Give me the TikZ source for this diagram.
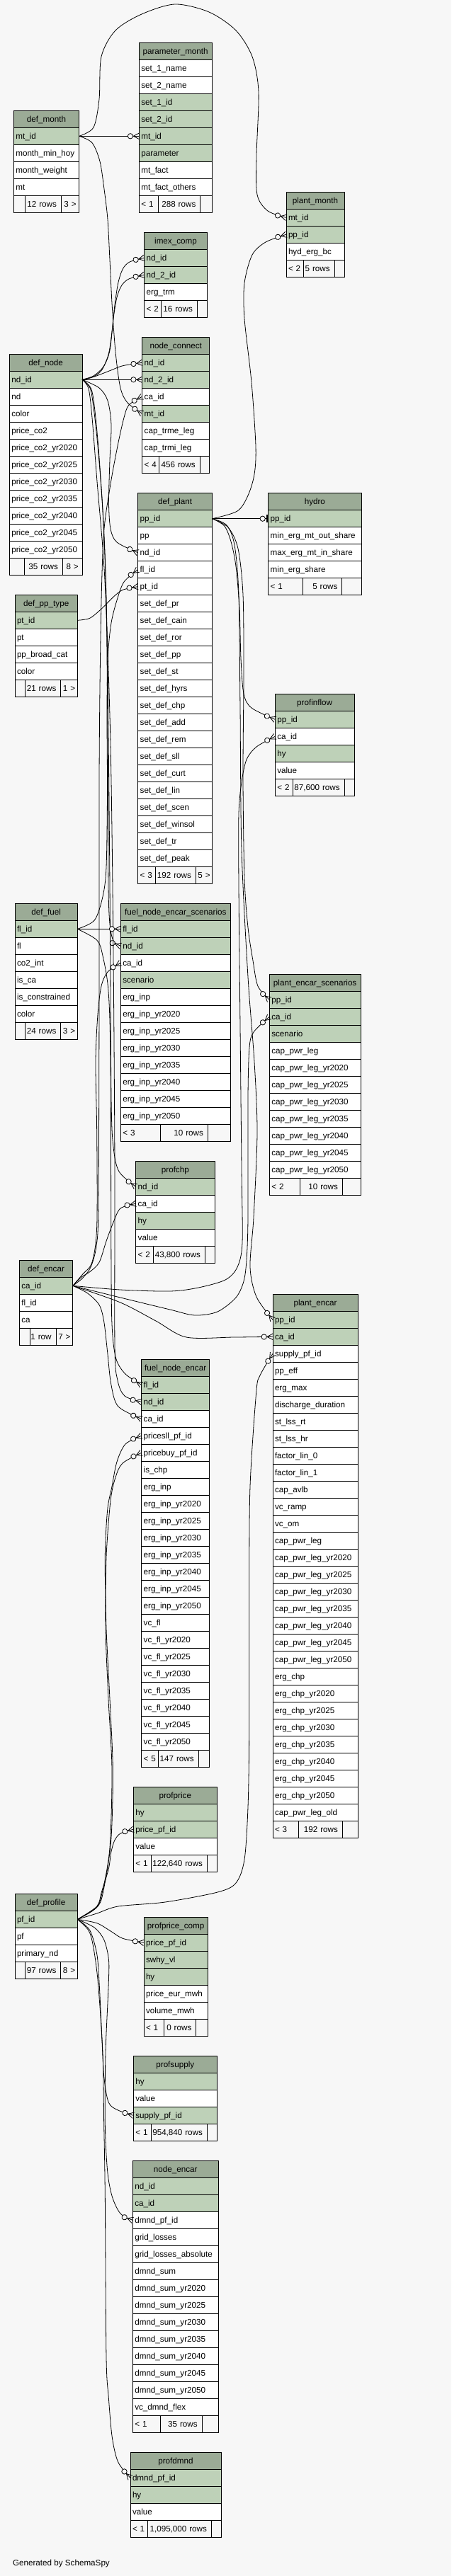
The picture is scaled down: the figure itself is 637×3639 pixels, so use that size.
\documentclass[tikz,border=0pt]{standalone}
\usepackage{fontspec}
\setmainfont{Liberation Sans}
\usetikzlibrary{arrows.meta}
\definecolor{pagebg}{HTML}{F7F7F7}
\definecolor{headbg}{HTML}{9BAB96}
\definecolor{keybg}{HTML}{BED1B8}
% zero-or-many end: circle and crow's foot
\pgfdeclarearrow{
  name = CrowO,
  setup code = {
    \pgfarrowssettipend{0pt}
    \pgfarrowssetlineend{0pt}
    \pgfarrowssetbackend{-12pt}
    \pgfarrowssetvisualbackend{-12pt}
    \pgfarrowshullpoint{0pt}{3pt}
    \pgfarrowshullpoint{0pt}{-3pt}
    \pgfarrowshullpoint{-12pt}{0pt}
  },
  drawing code = {
    \pgfpathmoveto{\pgfqpoint{0pt}{3.2pt}}
    \pgfpathlineto{\pgfqpoint{-6pt}{0pt}}
    \pgfpathlineto{\pgfqpoint{0pt}{-3.2pt}}
    \pgfusepathqstroke
    \pgfpathcircle{\pgfqpoint{-9.25pt}{0pt}}{2.75pt}
    \pgfsetfillcolor{pagebg}
    \pgfusepathqfillstroke
  },
}
% zero-or-one end: circle and bar
\pgfdeclarearrow{
  name = TeeO,
  setup code = {
    \pgfarrowssettipend{0pt}
    \pgfarrowssetlineend{0pt}
    \pgfarrowssetbackend{-9pt}
    \pgfarrowssetvisualbackend{-9pt}
    \pgfarrowshullpoint{0pt}{4.1pt}
    \pgfarrowshullpoint{0pt}{-4.1pt}
    \pgfarrowshullpoint{-9pt}{0pt}
  },
  drawing code = {
    \pgfpathrectangle{\pgfqpoint{-2pt}{-4.1pt}}{\pgfqpoint{2pt}{8.2pt}}
    \pgfusepathqfill
    \pgfpathcircle{\pgfqpoint{-6pt}{0pt}}{2.75pt}
    \pgfsetfillcolor{pagebg}
    \pgfusepathqfillstroke
  },
}
\tikzset{
  cell/.style={rectangle, draw=black, line width=0.75pt, inner xsep=2.25pt, inner ysep=0pt,
    outer sep=0pt, minimum height=18pt, anchor=north west,
    font=\fontsize{8.75pt}{10.5pt}\selectfont, text height=7.5pt, text depth=1.5pt},
  tblhead/.style={cell, fill=headbg, align=center},
  tblrow/.style={cell, align=left},
  tblfoot/.style={cell, fill=pagebg},
  crowodot/.style={line width=0.6pt, -{CrowO}},
  teeodot/.style={line width=0.6pt, -{TeeO}},
}
% table: name, left, top, width, title, rows (text/fill)
\newcommand\dbtable[6]{%
  \def\tblx{#2}\def\tbly{#3}\def\tblw{#4}%
  \pgfmathsetlengthmacro\tblwd{(#4-6)*0.75pt}%
  \node[tblhead, text width=\tblwd] (#1) at (#2,#3) {#5};
  \foreach \txt/\bg [count=\i] in {#6} {
    \node[tblrow, fill=\bg, text width=\tblwd] (#1-\i) at (#2,{#3+24*\i}) {\txt};
    \xdef\lastrow{\i}
  }
}
% footer: name, first cut, second cut, left, count, right
\newcommand\dbfoot[6]{%
  \pgfmathsetmacro\fy{\tbly+24*(\lastrow+1)}%
  \pgfmathsetlengthmacro\wa{(#2-\tblx-6)*0.75pt}%
  \pgfmathsetlengthmacro\wb{(#3-#2-6)*0.75pt}%
  \pgfmathsetlengthmacro\wc{(\tblx+\tblw-#3-6)*0.75pt}%
  \node[tblfoot, align=left, text width=\wa] (#1-a) at (\tblx,\fy) {#4};
  \node[tblfoot, align=left, text width=\wb] (#1-b) at (#2,\fy) {\hbox to\linewidth{\hss#5\kern2.5pt}};
  \node[tblfoot, align=center, text width=\wc] (#1-c) at (#3,\fy) {\hbox to\linewidth{\hss#6\hss}};
}

\begin{document}
\begin{tikzpicture}[x=0.75pt, y=-0.75pt]
\fill[pagebg] (0,0) rectangle (637,3639);
\useasboundingbox (0,0) rectangle (637,3639);

\dbtable{defmonth}{19.3}{156.3}{92.4}{def\_month}{mt\_id/keybg, month\_min\_hoy/white, month\_weight/white, mt/white}
\dbfoot{defmonth}{35.7}{86.3}{}{12 rows}{3 >}

\dbtable{parammonth}{196.3}{60.3}{102.7}{parameter\_month}{set\_1\_name/white, set\_2\_name/white, set\_1\_id/keybg, set\_2\_id/keybg, mt\_id/keybg, parameter/keybg, mt\_fact/white, mt\_fact\_others/white}
\dbfoot{parammonth}{223.7}{282.7}{< 1}{288 rows}{}

\dbtable{plantmonth}{404}{271.3}{82}{plant\_month}{mt\_id/keybg, pp\_id/keybg, hyd\_erg\_bc/white}
\dbfoot{plantmonth}{428}{472}{< 2}{5 rows}{}

\dbtable{imexcomp}{203.7}{328.3}{88.6}{imex\_comp}{nd\_id/keybg, nd\_2\_id/keybg, erg\_trm/white}
\dbfoot{imexcomp}{227.7}{278.3}{< 2}{16 rows}{}

\dbtable{nodeconnect}{200.7}{476.3}{95}{node\_connect}{nd\_id/keybg, nd\_2\_id/keybg, ca\_id/white, mt\_id/keybg, cap\_trme\_leg/white, cap\_trmi\_leg/white}
\dbfoot{nodeconnect}{224.3}{282}{< 4}{456 rows}{}

\dbtable{defnode}{13.3}{500.3}{102.7}{def\_node}{nd\_id/keybg, nd/white, color/white, price\_co2/white, price\_co2\_yr2020/white, price\_co2\_yr2025/white, price\_co2\_yr2030/white, price\_co2\_yr2035/white, price\_co2\_yr2040/white, price\_co2\_yr2045/white, price\_co2\_yr2050/white}
\dbfoot{defnode}{34}{88.3}{}{35 rows}{8 >}

\dbtable{defplant}{194.7}{696.7}{105}{def\_plant}{pp\_id/keybg, pp/white, nd\_id/white, fl\_id/white, pt\_id/white, set\_def\_pr/white, set\_def\_cain/white, set\_def\_ror/white, set\_def\_pp/white, set\_def\_st/white, set\_def\_hyrs/white, set\_def\_chp/white, set\_def\_add/white, set\_def\_rem/white, set\_def\_sll/white, set\_def\_curt/white, set\_def\_lin/white, set\_def\_scen/white, set\_def\_winsol/white, set\_def\_tr/white, set\_def\_peak/white}
\dbfoot{defplant}{219.3}{276.3}{< 3}{192 rows}{5 >}

\dbtable{hydro}{378.7}{696.7}{131.3}{hydro}{pp\_id/keybg, min\_erg\_mt\_out\_share/white, max\_erg\_mt\_in\_share/white, min\_erg\_share/white}
\dbfoot{hydro}{427}{482.7}{< 1}{5 rows}{}

\dbtable{defpptype}{21}{840.3}{88.3}{def\_pp\_type}{pt\_id/keybg, pt/white, pp\_broad\_cat/white, color/white}
\dbfoot{defpptype}{35.7}{85.7}{}{21 rows}{1 >}

\dbtable{profinflow}{388.3}{980.3}{111.7}{profinflow}{pp\_id/keybg, ca\_id/white, hy/keybg, value/white}
\dbfoot{profinflow}{413}{486}{< 2}{87,600 rows}{}

\dbtable{deffuel}{21}{1276.3}{88.3}{def\_fuel}{fl\_id/keybg, fl/white, co2\_int/white, is\_ca/white, is\_constrained/white, color/white}
\dbfoot{deffuel}{35.7}{85.7}{}{24 rows}{3 >}

\dbtable{fnescen}{170.3}{1276.3}{155}{fuel\_node\_encar\_scenarios}{fl\_id/keybg, nd\_id/keybg, ca\_id/white, scenario/keybg, erg\_inp/white, erg\_inp\_yr2020/white, erg\_inp\_yr2025/white, erg\_inp\_yr2030/white, erg\_inp\_yr2035/white, erg\_inp\_yr2040/white, erg\_inp\_yr2045/white, erg\_inp\_yr2050/white}
\dbfoot{fnescen}{226.7}{293.3}{< 3}{10 rows}{}

\dbtable{pescen}{380.3}{1376.3}{128.7}{plant\_encar\_scenarios}{pp\_id/keybg, ca\_id/keybg, scenario/keybg, cap\_pwr\_leg/white, cap\_pwr\_leg\_yr2020/white, cap\_pwr\_leg\_yr2025/white, cap\_pwr\_leg\_yr2030/white, cap\_pwr\_leg\_yr2035/white, cap\_pwr\_leg\_yr2040/white, cap\_pwr\_leg\_yr2045/white, cap\_pwr\_leg\_yr2050/white}
\dbfoot{pescen}{423.7}{483.3}{< 2}{10 rows}{}

\dbtable{profchp}{191.7}{1640.3}{111.3}{profchp}{nd\_id/keybg, ca\_id/white, hy/keybg, value/white}
\dbfoot{profchp}{216.3}{289.3}{< 2}{43,800 rows}{}

\dbtable{defencar}{27.3}{1780.3}{75.4}{def\_encar}{ca\_id/keybg, fl\_id/white, ca/white}
\dbfoot{defencar}{42.3}{79}{}{1 row}{7 >}

\dbtable{plantencar}{385}{1828.3}{120}{plant\_encar}{pp\_id/keybg, ca\_id/keybg, supply\_pf\_id/white, pp\_eff/white, erg\_max/white, discharge\_duration/white, st\_lss\_rt/white, st\_lss\_hr/white, factor\_lin\_0/white, factor\_lin\_1/white, cap\_avlb/white, vc\_ramp/white, vc\_om/white, cap\_pwr\_leg/white, cap\_pwr\_leg\_yr2020/white, cap\_pwr\_leg\_yr2025/white, cap\_pwr\_leg\_yr2030/white, cap\_pwr\_leg\_yr2035/white, cap\_pwr\_leg\_yr2040/white, cap\_pwr\_leg\_yr2045/white, cap\_pwr\_leg\_yr2050/white, erg\_chp/white, erg\_chp\_yr2020/white, erg\_chp\_yr2025/white, erg\_chp\_yr2030/white, erg\_chp\_yr2035/white, erg\_chp\_yr2040/white, erg\_chp\_yr2045/white, erg\_chp\_yr2050/white, cap\_pwr\_leg\_old/white}
\dbfoot{plantencar}{421.3}{483.3}{< 3}{192 rows}{}

\dbtable{fuelnodeencar}{199.7}{1920.3}{96}{fuel\_node\_encar}{fl\_id/keybg, nd\_id/keybg, ca\_id/white, pricesll\_pf\_id/white, pricebuy\_pf\_id/white, is\_chp/white, erg\_inp/white, erg\_inp\_yr2020/white, erg\_inp\_yr2025/white, erg\_inp\_yr2030/white, erg\_inp\_yr2035/white, erg\_inp\_yr2040/white, erg\_inp\_yr2045/white, erg\_inp\_yr2050/white, vc\_fl/white, vc\_fl\_yr2020/white, vc\_fl\_yr2025/white, vc\_fl\_yr2030/white, vc\_fl\_yr2035/white, vc\_fl\_yr2040/white, vc\_fl\_yr2045/white, vc\_fl\_yr2050/white}
\dbfoot{fuelnodeencar}{223.7}{280}{< 5}{147 rows}{}

\dbtable{profprice}{188.3}{2524.3}{118}{profprice}{hy/keybg, price\_pf\_id/keybg, value/white}
\dbfoot{profprice}{213}{292.3}{< 1}{122,640 rows}{}

\dbtable{defprofile}{21}{2675.3}{88.3}{def\_profile}{pf\_id/keybg, pf/white, primary\_nd/white}
\dbfoot{defprofile}{35.7}{85.7}{}{97 rows}{8 >}

\dbtable{profpricecomp}{203}{2708.3}{90.3}{profprice\_comp}{price\_pf\_id/keybg, swhy\_vl/keybg, hy/keybg, price\_eur\_mwh/white, volume\_mwh/white}
\dbfoot{profpricecomp}{231}{276.7}{< 1}{0 rows}{}

\dbtable{profsupply}{188.3}{2904.3}{118}{profsupply}{hy/keybg, value/white, supply\_pf\_id/keybg}
\dbfoot{profsupply}{213}{292.3}{< 1}{954,840 rows}{}

\dbtable{nodeencar}{187.3}{3052.3}{121}{node\_encar}{nd\_id/keybg, ca\_id/keybg, dmnd\_pf\_id/white, grid\_losses/white, grid\_losses\_absolute/white, dmnd\_sum/white, dmnd\_sum\_yr2020/white, dmnd\_sum\_yr2025/white, dmnd\_sum\_yr2030/white, dmnd\_sum\_yr2035/white, dmnd\_sum\_yr2040/white, dmnd\_sum\_yr2045/white, dmnd\_sum\_yr2050/white, vc\_dmnd\_flex/white}
\dbfoot{nodeencar}{226.7}{285}{< 1}{35 rows}{}

\dbtable{profdmnd}{184}{3464.3}{128}{profdmnd}{dmnd\_pf\_id/keybg, hy/keybg, value/white}
\dbfoot{profdmnd}{208}{298.3}{< 1}{1,095,000 rows}{}

\node[anchor=base west, font=\fontsize{8.75pt}{10.5pt}\selectfont] (credit) at (13.3,3624) {Generated by SchemaSpy};

% def_month
\draw[crowodot] (defmonth-1.east) -- (parammonth-5.west);
\draw[crowodot] plot[smooth] coordinates {(defmonth-1.east) (132,180) (140,140) (143,80) (163,43) (200,20) (247,6) (295,17) (333,43) (356,80) (365,130) (362,220) (363,275) (378,298) (plantmonth-1.west)};
\draw[crowodot] plot[smooth] coordinates {(defmonth-1.east) (130,201.7) (141,228) (147,267) (152,310) (155,367) (158.3,433) (163.3,500) (170,548) (180,569) (nodeconnect-4.west)};

% def_node
\draw[crowodot] plot[smooth] coordinates {(defnode-1.east) (130,533) (143.3,523.3) (153.3,500) (158.3,466.7) (161.7,433.3) (166.7,400) (173.3,380) (183,370) (imexcomp-1.west)};
\draw[crowodot] plot[smooth] coordinates {(defnode-1.east) (132,531) (146,518) (155,495) (160,450) (165,420) (171.7,403.3) (182,394) (imexcomp-2.west)};
\draw[crowodot] plot[smooth] coordinates {(defnode-1.east) (133.3,532) (156.7,523) (173.3,516.7) (nodeconnect-1.west)};
\draw[crowodot] (defnode-1.east) -- (nodeconnect-2.west);
\draw[crowodot] plot[smooth] coordinates {(defnode-1.east) (140,548) (152,566) (157,600) (155,650) (153.5,710) (156,747) (165,766) (defplant-3.west)};
\draw[crowodot] plot[smooth] coordinates {(defnode-1.east) (127,548) (132,575) (138,630) (145,720) (150,850) (152,1050) (153,1250) (155,1305) (160,1329) (fnescen-2.west)};
\draw[crowodot] plot[smooth] coordinates {(defnode-1.east) (129,550) (135,590) (141,660) (148,780) (152,950) (155,1250) (157,1550) (160,1620) (168,1655) (profchp-1.west)};
\draw[crowodot] plot[smooth] coordinates {(defnode-1.east) (125,549) (130,590) (137,680) (148,820) (156,1050) (160,1350) (162,1650) (162,1900) (166,1950) (176,1972) (fuelnodeencar-2.west)};

% def_plant
\draw[teeodot] (defplant-1.east) -- (hydro-1.west);
\draw[crowodot] plot[smooth] coordinates {(defplant-1.east) (335,722) (350,700) (359,670) (361,630) (355,540) (345,450) (345,400) (356,360) (375,342) (plantmonth-2.west)};
\draw[crowodot] plot[smooth] coordinates {(defplant-1.east) (316.7,743) (326,765) (333,800) (338,860) (340,930) (344,980) (355,1000) (profinflow-1.west)};
\draw[crowodot] plot[smooth] coordinates {(defplant-1.east) (322,745) (336,775) (343,840) (344,950) (343,1100) (345,1240) (350,1310) (357,1357) (364,1393) (pescen-1.west)};
\draw[crowodot] plot[smooth] coordinates {(defplant-1.east) (320,742) (331,770) (337,840) (339,1000) (341,1200) (350,1380) (359,1500) (363,1600) (358,1720) (353,1790) (362,1832) (plantencar-1.west)};

% def_pp_type, def_fuel
\draw[crowodot] plot[smooth] coordinates {(defpptype-1.east) (126.7,873.3) (143.3,860) (160,843.3) (173.3,833.3) (defplant-5.west)};
\draw[crowodot] plot[smooth] coordinates {(deffuel-1.east) (133.3,1300) (145,1266.7) (150,1225) (151.5,1120) (151,1000) (152.5,925) (157,880) (165,848) (175,822) (defplant-4.west)};
\draw[crowodot] (deffuel-1.east) -- (fnescen-1.west);
\draw[crowodot] plot[smooth] coordinates {(deffuel-1.east) (136.7,1328) (145,1350) (153,1400) (156,1500) (157,1800) (158.5,1880) (164,1920) (177,1941) (fuelnodeencar-1.west)};

% def_encar
\draw[crowodot] plot[smooth] coordinates {(defencar-1.east) (116,1806) (128,1790) (136,1760) (139,1700) (140,1400) (140,1100) (142,900) (146,760) (155,690) (166,630) (175,590) (182,572) (nodeconnect-3.west)};
\draw[crowodot] plot[smooth] coordinates {(defencar-1.east) (170,1822) (240,1824) (280,1819) (318,1808) (335,1790) (342,1755) (341,1650) (339,1450) (337,1250) (337,1150) (341,1105) (348,1073) (362,1055) (profinflow-2.west)};
\draw[crowodot] plot[smooth] coordinates {(defencar-1.east) (116.7,1800) (130,1783) (136.7,1733) (136.7,1600) (135,1500) (138,1433) (143,1393) (152,1373) (fnescen-3.west)};
\draw[crowodot] plot[smooth] coordinates {(defencar-1.east) (170,1833) (240,1850) (275,1858) (307,1853) (333,1833) (344,1810) (348,1780) (350,1720) (350,1550) (352,1480) (358,1458) (pescen-2.west)};
\draw[crowodot] plot[smooth] coordinates {(defencar-1.east) (115,1804) (126.7,1796.7) (140,1783.3) (150,1753.3) (160,1726.7) (170,1707) (profchp-2.west)};
\draw[crowodot] plot[smooth] coordinates {(defencar-1.east) (170,1840) (220,1866) (263,1889) (330,1889) (plantencar-2.west)};
\draw[crowodot] plot[smooth] coordinates {(defencar-1.east) (123.3,1826.7) (140,1843.3) (146.7,1866.7) (151.7,1910) (156.7,1955) (166.7,1986.7) (fuelnodeencar-3.west)};

% def_profile
\draw[crowodot] plot[smooth] coordinates {(defprofile-1.east) (138,2693) (146.7,2667) (156.7,2600) (159.3,2500) (155,2400) (150,2300) (148.3,2200) (151.7,2133) (158,2100) (165,2065) (177,2040) (fuelnodeencar-4.west)};
\draw[crowodot] plot[smooth] coordinates {(defprofile-1.east) (136,2695) (145,2670) (155,2610) (158,2500) (153,2400) (149,2300) (150,2200) (156,2120) (163,2087) (173,2067) (fuelnodeencar-5.west)};
\draw[crowodot] plot[smooth] coordinates {(defprofile-1.east) (136.7,2703) (166.7,2693) (233,2687) (307,2673) (333,2660) (345,2627) (350,2553) (351.7,2450) (351.7,2250) (353,2100) (361.7,1967) (367,1943) (plantencar-3.west)};
\draw[crowodot] plot[smooth] coordinates {(defprofile-1.east) (136.7,2693) (143.3,2673) (153.3,2640) (156.7,2617) (161.7,2600) (170,2590) (profprice-2.west)};
\draw[crowodot] plot[smooth] coordinates {(defprofile-1.east) (136.7,2716.7) (156.7,2728.3) (173.3,2738.3) (profpricecomp-1.west)};
\draw[crowodot] plot[smooth] coordinates {(defprofile-1.east) (126.7,2726.7) (136.7,2760) (140,2800) (143.3,2867) (146.7,2933) (153.3,2970) (166.7,2981) (profsupply-3.west)};
\draw[crowodot] plot[smooth] coordinates {(defprofile-1.east) (133.3,2723) (146.7,2740) (153.3,2767) (153.3,2800) (149,2900) (148.3,3000) (151.7,3067) (158.3,3103) (170,3127) (nodeencar-3.west)};
\draw[crowodot] plot[smooth] coordinates {(defprofile-1.east) (125,2727) (131.7,2750) (138.3,2800) (145,2900) (146.7,3000) (148.3,3100) (150,3330) (153.3,3387) (158.3,3443) (166.7,3478) (profdmnd-1.west)};
\end{tikzpicture}
\end{document}
